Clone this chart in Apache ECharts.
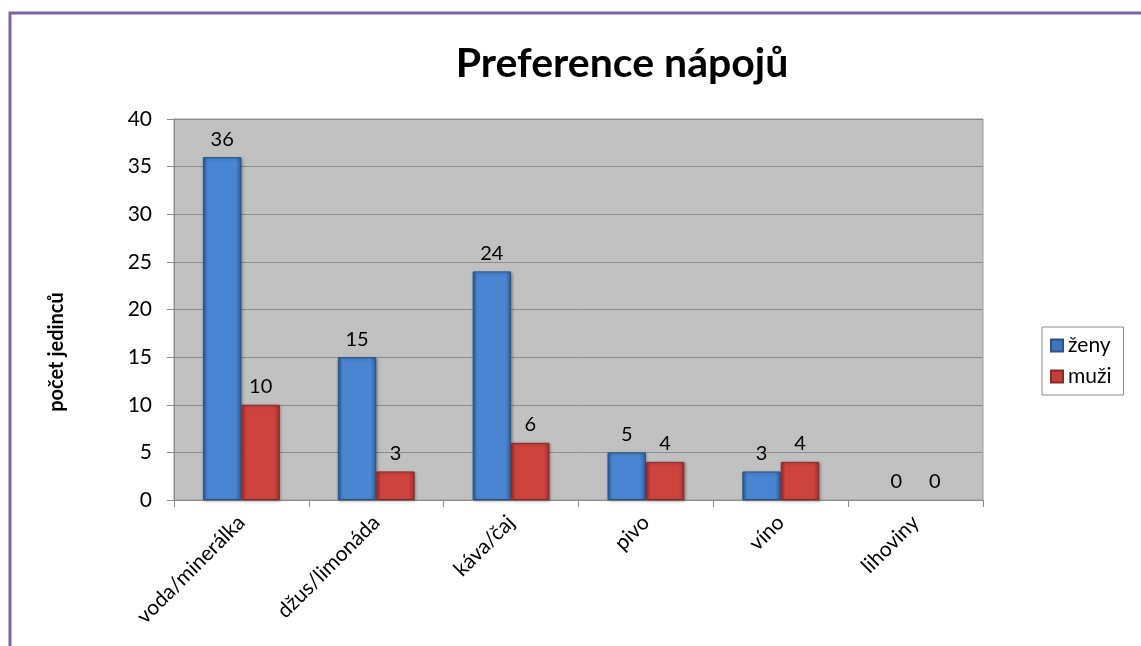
<!DOCTYPE html>
<html>
<head>
<meta charset="utf-8">
<script src="https://cdn.jsdelivr.net/npm/echarts@6/dist/echarts.min.js"></script>
<style>
html,body{margin:0;padding:0;background:#fff;}
#c{width:1141px;height:646px;}
</style>
</head>
<body>
<div id="c"></div>
<script>
const categories = ['voda/minerálka', 'džus/limonáda', 'káva/čaj', 'pivo', 'víno', 'lihoviny'];
const zeny = [36, 15, 24, 5, 3, 0];
const muzi = [10, 3, 6, 4, 4, 0];
const seriesNames = ['ženy', 'muži'];
const chartTitle = 'Preference nápojů';
const yName = 'počet jedinců';

const FONT = 'Lato, "Open Sans", sans-serif';

function grad(c1, c2, c3) {
  return new echarts.graphic.LinearGradient(0, 0, 1, 0, [
    {offset: 0, color: c1}, {offset: 0.12, color: c2}, {offset: 0.85, color: c2}, {offset: 1, color: c3}
  ]);
}
function prep(arr) {
  return arr.map(v => v === 0 ? {value: v, itemStyle: {borderWidth: 0, shadowBlur: 0, opacity: 0}} : v);
}

const chart = echarts.init(document.getElementById('c'), null, {renderer: 'canvas'});
chart.setOption({
  backgroundColor: '#ffffff',
  animation: false,
  graphic: [{
    type: 'rect', z: 100, silent: true,
    shape: {x: 10, y: 13, width: 1300, height: 800},
    style: {fill: 'none', stroke: '#8064a2', lineWidth: 3}
  }, {
    type: 'text', x: 57, y: 352, rotation: Math.PI / 2, silent: true,
    style: {text: yName, fontFamily: FONT, fontWeight: 'bold', fontSize: 20, fill: '#000', align: 'center', verticalAlign: 'middle'}
  }],
  title: {
    text: chartTitle, left: 617, top: 38, textAlign: 'center',
    textStyle: {fontFamily: FONT, fontWeight: 'bold', fontSize: 41, color: '#000'}
  },
  legend: {
    orient: 'vertical', left: 1042, top: 327,
    itemWidth: 12, itemHeight: 12, itemGap: 10,
    borderColor: '#8c8c8c', borderWidth: 1, padding: [8, 12, 8, 8],
    textStyle: {fontFamily: FONT, fontSize: 21, color: '#000'},
    data: [
      {name: seriesNames[0], icon: 'rect', itemStyle: {color: '#3f75bd'}},
      {name: seriesNames[1], icon: 'rect', itemStyle: {color: '#c0403c'}}
    ]
  },
  grid: {left: 174, right: 158, top: 119, bottom: 146, show: true, backgroundColor: '#c0c0c0', borderColor: '#9a9a9a', borderWidth: 1},
  xAxis: {
    type: 'category', data: categories,
    axisLine: {lineStyle: {color: '#8c8c8c'}},
    axisTick: {show: true, length: 7, lineStyle: {color: '#8c8c8c'}},
    axisLabel: {rotate: 45, fontFamily: FONT, fontSize: 21, color: '#000', margin: 19, interval: 0}
  },
  yAxis: {
    type: 'value', min: 0, max: 40, interval: 5,
    axisLine: {show: true, lineStyle: {color: '#8c8c8c'}},
    axisTick: {show: true, length: 7, lineStyle: {color: '#8c8c8c'}},
    axisLabel: {fontFamily: FONT, fontSize: 21, color: '#000', margin: 22},
    splitLine: {lineStyle: {color: '#8c8c8c', width: 1}}
  },
  series: [
    {
      name: seriesNames[0], type: 'bar', data: prep(zeny), barGap: '0%', barCategoryGap: '43%',
      itemStyle: {color: grad('#2c5a98', '#4a85d1', '#2f5f9e'), borderColor: '#2a5288', borderWidth: 1, shadowColor: 'rgba(0,0,0,0.3)', shadowBlur: 3, shadowOffsetX: 1, shadowOffsetY: 1},
      label: {show: true, position: 'top', distance: 8, fontFamily: FONT, fontSize: 20, color: '#000', opacity: 1}
    },
    {
      name: seriesNames[1], type: 'bar', data: prep(muzi),
      itemStyle: {color: grad('#9e2f2c', '#cf433e', '#a3302d'), borderColor: '#8a2a27', borderWidth: 1, shadowColor: 'rgba(0,0,0,0.3)', shadowBlur: 3, shadowOffsetX: 1, shadowOffsetY: 1},
      label: {show: true, position: 'top', distance: 8, fontFamily: FONT, fontSize: 20, color: '#000', opacity: 1}
    }
  ]
});
</script>
</body>
</html>
